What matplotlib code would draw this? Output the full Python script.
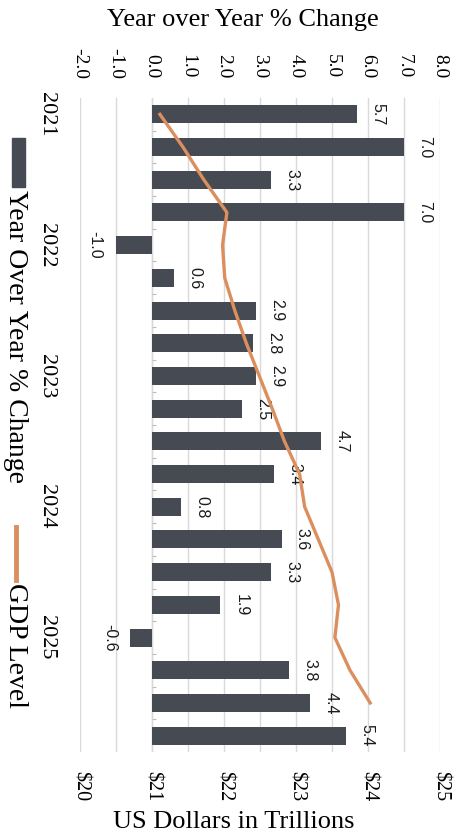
import numpy as np
import matplotlib.pyplot as plt
from matplotlib.patches import Rectangle
from matplotlib.lines import Line2D

# quarterly data, 2021 Q1 .. 2025 Q4
yoy = [5.7, 7.0, 3.3, 7.0, -1.0, 0.6, 2.9, 2.8, 2.9, 2.5,
       4.7, 3.4, 0.8, 3.6, 3.3, 1.9, -0.6, 3.8, 4.4, 5.4]
gdp_level = [21.11, 21.43, 21.72, 22.04, 21.98, 22.01, 22.15, 22.31, 22.49, 22.67,
             22.84, 23.05, 23.12, 23.31, 23.50, 23.59, 23.54, 23.75, 24.03]
years = ['2021', '2022', '2023', '2024', '2025']
pct_ticks = [-2.0, -1.0, 0.0, 1.0, 2.0, 3.0, 4.0, 5.0, 6.0, 7.0, 8.0]
usd_ticks = [20, 21, 22, 23, 24, 25]

bar_color = '#464a52'
line_color = '#dc8f5e'
grid_color = '#d9d9d9'
serif = ['Liberation Serif', 'DejaVu Serif']
sans = ['Liberation Sans', 'DejaVu Sans']

W, H = 466, 840
fig = plt.figure(figsize=(W / 100, H / 100), dpi=100)
ax = fig.add_axes([80 / W, 1 - 752 / H, 360 / W, 654 / H])
ax2 = ax.twiny()

idx = np.arange(len(yoy))
ax.barh(idx, yoy, height=0.55, color=bar_color, zorder=2)
ax.set_ylim(len(yoy) - 0.5, -0.5)
ax.set_xlim(pct_ticks[0], pct_ticks[-1])

# gridlines + category axis
ax.set_xticks(pct_ticks)
ax.grid(axis='x', color=grid_color, lw=1)
ax.set_axisbelow(True)
ax.axvline(0, color=grid_color, lw=1, zorder=1)
ax.hlines(idx + 0.5, 0, 0.12, color='#bfbfbf', lw=0.8, zorder=1)
for s in ax.spines.values():
    s.set_visible(False)

# percent axis on top
ax.xaxis.tick_top()
ax.set_xticklabels(['%.1f' % t for t in pct_ticks], rotation=-90,
                   fontsize=14, family=serif)
ax.tick_params(axis='x', length=0, pad=14, labeltop=True, labelbottom=False)

# year labels on the side
ax.set_yticks(idx[::4])
ax.set_yticklabels(years, rotation=-90, fontsize=16, family=serif, va='center')
ax.tick_params(axis='y', length=0, pad=17)

# data labels
for i, v in enumerate(yoy):
    off = 15 if v >= 0 else -15
    ax.annotate('%.1f' % v, (v, i), xytext=(off, 0), textcoords='offset points',
                rotation=-90, ha='center', va='center', fontsize=11.5, family=sans,
                color='#1a1a1a', zorder=3)

# GDP level on dollar axis
ax2.set_xlim(usd_ticks[0], usd_ticks[-1])
ax2.plot(gdp_level, idx[:len(gdp_level)], color=line_color, lw=2.4, zorder=4)
ax2.xaxis.tick_bottom()
ax2.set_xticks(usd_ticks)
ax2.set_xticklabels([r'\$%d' % t for t in usd_ticks], rotation=-90,
                    fontsize=14.5, family=serif)
ax2.tick_params(axis='x', length=0, pad=14, labelbottom=True, labeltop=False)
for s in ax2.spines.values():
    s.set_visible(False)

fig.text(243 / W, 1 - 20 / H, 'Year over Year % Change', ha='center', va='center',
         fontsize=19, family=serif)
fig.text(234 / W, 1 - 822 / H, 'US Dollars in Trillions', ha='center', va='center',
         fontsize=19, family=serif)

# legend (rotated)
fig.patches.append(Rectangle((12 / W, 1 - 187 / H), 13 / W, 49 / H,
                             transform=fig.transFigure, color=bar_color))
fig.text(15 / W, 1 - 190 / H, 'Year Over Year % Change', rotation=-90,
         ha='center', va='top', fontsize=20, family=serif)
fig.lines.append(Line2D([15.5 / W, 15.5 / W], [1 - 527 / H, 1 - 580 / H],
                        transform=fig.transFigure, color=line_color, lw=3.5))
fig.text(15 / W, 1 - 583 / H, 'GDP Level', rotation=-90,
         ha='center', va='top', fontsize=20, family=serif)

plt.savefig('out.png', dpi=100)
